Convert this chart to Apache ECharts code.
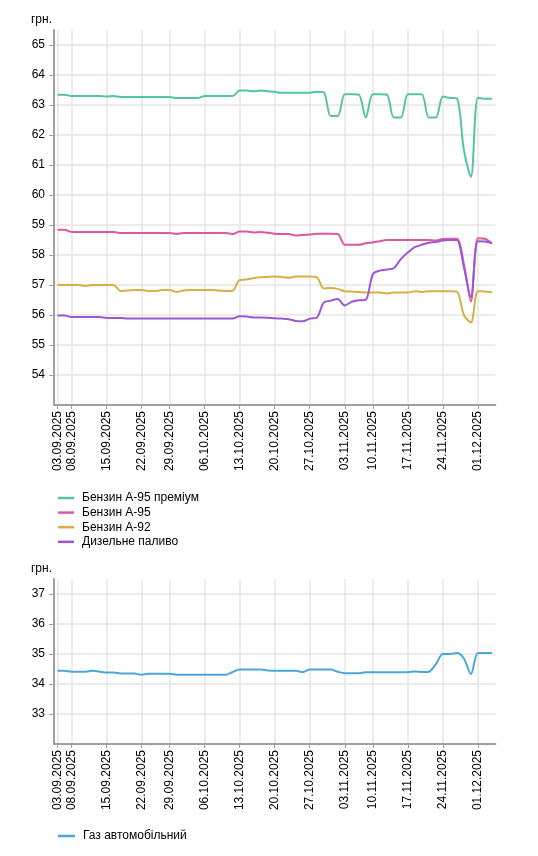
<!DOCTYPE html>
<html>
<head>
<meta charset="utf-8">
<script src="https://cdn.jsdelivr.net/npm/echarts@6/dist/echarts.min.js"></script>
<style>
html,body{margin:0;padding:0;background:#fff;}
#chart{width:538px;height:856px;}
</style>
</head>
<body>
<div id="chart"></div>
<script>
const categories = [
 '03.09.2025','05.09.2025','08.09.2025','09.09.2025','10.09.2025','11.09.2025','12.09.2025',
 '15.09.2025','16.09.2025','17.09.2025','18.09.2025','19.09.2025',
 '22.09.2025','23.09.2025','24.09.2025','26.09.2025',
 '29.09.2025','30.09.2025','01.10.2025','02.10.2025','03.10.2025',
 '06.10.2025','07.10.2025','08.10.2025','09.10.2025','10.10.2025',
 '13.10.2025','14.10.2025','15.10.2025','16.10.2025','17.10.2025',
 '20.10.2025','21.10.2025','22.10.2025','23.10.2025','24.10.2025',
 '27.10.2025','28.10.2025','29.10.2025','30.10.2025','31.10.2025',
 '03.11.2025','04.11.2025','05.11.2025','07.11.2025',
 '10.11.2025','11.11.2025','12.11.2025','13.11.2025','14.11.2025',
 '17.11.2025','18.11.2025','19.11.2025','20.11.2025','21.11.2025',
 '24.11.2025','25.11.2025','26.11.2025','27.11.2025','28.11.2025',
 '01.12.2025','02.12.2025','03.12.2025'
];

const tickLabels = ['03.09.2025','08.09.2025','15.09.2025','22.09.2025','29.09.2025','06.10.2025',
 '13.10.2025','20.10.2025','27.10.2025','03.11.2025','10.11.2025','17.11.2025','24.11.2025','01.12.2025'];

const premium95 = [
 63.34,63.34,63.30,63.30,63.30,63.30,63.30,63.28,63.30,63.27,63.27,63.27,63.27,63.27,63.27,63.27,
 63.27,63.23,63.23,63.23,63.23,63.30,63.30,63.30,63.30,63.30,63.48,63.48,63.46,63.48,63.46,
 63.44,63.41,63.41,63.41,63.41,63.41,63.44,63.42,62.63,62.63,63.36,63.36,63.35,62.58,
 63.36,63.36,63.35,62.58,62.58,63.36,63.36,63.36,62.58,62.58,63.28,63.24,63.22,61.50,60.60,
 63.24,63.21,63.21
];
const a95 = [
 58.84,58.84,58.77,58.77,58.77,58.77,58.77,58.77,58.77,58.73,58.73,58.73,58.73,58.73,58.73,58.73,
 58.73,58.70,58.73,58.73,58.73,58.73,58.73,58.73,58.73,58.70,58.78,58.78,58.75,58.77,58.74,
 58.71,58.70,58.70,58.65,58.67,58.68,58.71,58.71,58.71,58.70,58.34,58.34,58.34,58.39,
 58.42,58.46,58.50,58.50,58.50,58.50,58.50,58.50,58.50,58.48,58.53,58.54,58.54,57.70,56.45,
 58.56,58.54,58.38
];
const a92 = [
 57.00,57.00,57.00,57.00,56.97,57.00,57.00,57.00,57.00,56.80,56.82,56.83,56.83,56.80,56.80,56.83,
 56.83,56.77,56.82,56.83,56.83,56.83,56.83,56.82,56.80,56.81,57.17,57.18,57.23,57.26,57.27,
 57.28,57.27,57.24,57.28,57.28,57.28,57.26,56.88,56.90,56.87,56.79,56.78,56.77,56.75,
 56.75,56.75,56.72,56.75,56.75,56.75,56.79,56.77,56.79,56.79,56.79,56.79,56.78,56.00,55.75,
 56.79,56.78,56.76
];
const diesel = [
 55.98,55.98,55.93,55.93,55.93,55.93,55.93,55.90,55.90,55.90,55.88,55.88,55.88,55.88,55.88,55.88,
 55.88,55.88,55.88,55.88,55.88,55.88,55.88,55.88,55.88,55.88,55.96,55.95,55.92,55.92,55.91,
 55.89,55.88,55.86,55.80,55.79,55.88,55.91,56.41,56.48,56.53,56.32,56.44,56.49,56.51,
 57.36,57.48,57.52,57.56,57.86,58.08,58.26,58.34,58.41,58.43,58.48,58.50,58.50,57.60,56.60,
 58.46,58.45,58.39
];
const gas = [
 34.44,34.44,34.41,34.41,34.41,34.44,34.41,34.38,34.38,34.35,34.35,34.35,34.31,34.34,34.34,34.34,
 34.34,34.31,34.31,34.31,34.31,34.31,34.31,34.31,34.31,34.40,34.48,34.48,34.48,34.48,34.45,
 34.44,34.44,34.44,34.44,34.40,34.48,34.48,34.48,34.48,34.41,34.36,34.36,34.36,34.39,
 34.39,34.39,34.39,34.39,34.39,34.39,34.42,34.40,34.41,34.66,35.00,35.00,35.03,34.85,34.33,
 35.03,35.03,35.03
];

const seriesNamesTop = ['Бензин А-95 преміум','Бензин А-95','Бензин А-92','Дизельне паливо'];
const seriesNameBottom = 'Газ автомобільний';
const colors = ['#55c3a3','#da5a9d','#d7af45','#9c57d9','#4aa6d7'];

const FONT = '"Liberation Sans", Arial, sans-serif';
const showTick = function (idx, val) { return tickLabels.indexOf(val) !== -1; };

function xAxisCfg(gridIndex) {
  return {
    type: 'category', gridIndex: gridIndex, data: categories, boundaryGap: true,
    axisLine: { show: true, lineStyle: { color: '#a0a0a0', width: 2 } },
    axisTick: { show: true, alignWithLabel: true, interval: showTick, length: 4, lineStyle: { color: '#a0a0a0' } },
    axisLabel: { interval: showTick, rotate: 90, margin: 6, color: '#000', fontSize: 12, fontFamily: FONT },
    splitLine: { show: true, alignWithLabel: true, interval: showTick, lineStyle: { color: '#e6e6e6', width: 1.5 } }
  };
}
function yAxisCfg(gridIndex, min, max) {
  return {
    type: 'value', gridIndex: gridIndex, min: min, max: max, interval: 1,
    name: 'грн.', nameLocation: 'end', nameGap: 4,
    nameTextStyle: { color: '#000', fontSize: 12, fontFamily: FONT, align: 'right', verticalAlign: 'bottom', padding: [0, 2, 0, 0] },
    axisLine: { show: true, lineStyle: { color: '#a0a0a0', width: 2 } },
    axisTick: { show: true, length: 5, lineStyle: { color: '#a0a0a0' } },
    axisLabel: { color: '#000', fontSize: 12, fontFamily: FONT, margin: 9, showMinLabel: false, showMaxLabel: false },
    splitLine: { show: true, showMaxLine: false, lineStyle: { color: '#e6e6e6', width: 1.5 } }
  };
}
function lineSeries(name, data, color, xi, yi) {
  return {
    type: 'line', name: name, data: data, xAxisIndex: xi, yAxisIndex: yi,
    showSymbol: false, symbol: 'none', smooth: 0.3,
    lineStyle: { color: color, width: 2 }, itemStyle: { color: color }
  };
}

const chart = echarts.init(document.getElementById('chart'), null, { renderer: 'canvas' });
chart.setOption({
  animation: false,
  backgroundColor: '#fff',
  textStyle: { fontFamily: FONT },
  grid: [
    { left: 54, top: 30, width: 441.4, height: 375 },
    { left: 54, top: 579, width: 441.4, height: 165 }
  ],
  xAxis: [xAxisCfg(0), xAxisCfg(1)],
  yAxis: [yAxisCfg(0, 53, 65.5), yAxisCfg(1, 32, 37.5)],
  legend: [
    { data: seriesNamesTop, orient: 'vertical', left: 53, top: 487, itemGap: 2.6, icon: 'rect', itemWidth: 16, itemHeight: 2.5,
      textStyle: { color: '#000', fontSize: 12, fontFamily: FONT, padding: [0, 0, 0, 3] } },
    { data: [seriesNameBottom], orient: 'vertical', left: 53, top: 825, itemGap: 2, icon: 'rect', itemWidth: 17, itemHeight: 2.5,
      textStyle: { color: '#000', fontSize: 12, fontFamily: FONT, padding: [0, 0, 0, 3] } }
  ],
  series: [
    lineSeries(seriesNamesTop[0], premium95, colors[0], 0, 0),
    lineSeries(seriesNamesTop[1], a95, colors[1], 0, 0),
    lineSeries(seriesNamesTop[2], a92, colors[2], 0, 0),
    lineSeries(seriesNamesTop[3], diesel, colors[3], 0, 0),
    lineSeries(seriesNameBottom, gas, colors[4], 1, 1)
  ]
});
</script>
</body>
</html>
